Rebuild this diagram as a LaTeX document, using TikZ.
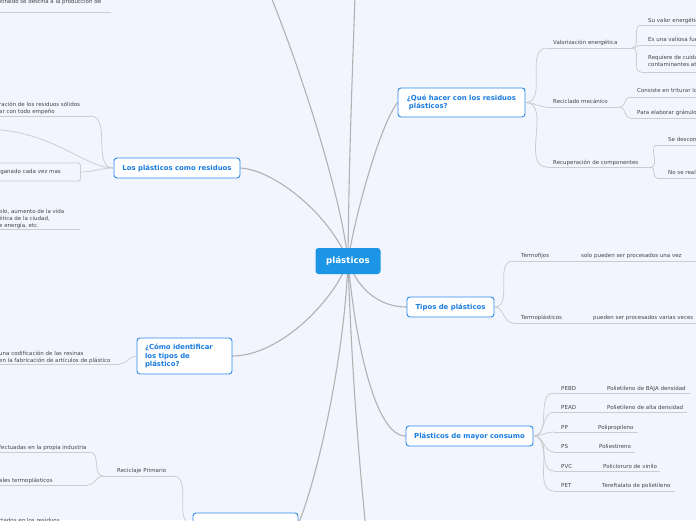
\documentclass[tikz,border=0pt]{standalone}
\usepackage{fontspec}
\setmainfont{DejaVu Sans}
\pgfdeclarelayer{backg}
\pgfdeclarelayer{lines}
\pgfsetlayers{backg,lines,main}
\definecolor{bgc}{HTML}{F2F5FE}
\definecolor{boxblue}{HTML}{2B8AE8}
\definecolor{titleblue}{HTML}{1A7BE0}
\definecolor{centerblue}{HTML}{1C95E6}
\definecolor{subtext}{HTML}{454545}
\definecolor{branchc}{HTML}{B2B2B2}
\definecolor{twigc}{HTML}{CCCCCC}
\tikzset{
  mainbox/.style={draw=boxblue, fill=white, rounded corners=3pt, line width=0.9pt, text=titleblue,
    font=\bfseries\fontsize{6.9}{8.5}\selectfont, inner sep=0pt, align=left},
  centerbox/.style={fill=centerblue, rounded corners=3pt, text=white,
    font=\bfseries\fontsize{8.7}{10}\selectfont, minimum width=65pt, minimum height=26pt, inner sep=0pt},
  sub/.style={font=\fontsize{5.5}{7}\selectfont, text=subtext, inner sep=0pt, anchor=base west, align=left},
  subm/.style={sub, anchor=north west},
  branch/.style={draw=branchc, line width=1.1pt},
  twig/.style={draw=twigc, line width=0.75pt},
  ul/.style={draw=twigc, line width=0.75pt},
}
% name, text x, baseline y, ul start x, ul y, ul end x, text
\newcommand{\stp}[7]{%
  \node[sub] (#1) at (#2,#3) {#7};
  \coordinate (#1-a) at (#4,#5);
  \coordinate (#1-b) at (#6,#5);
  \draw[ul] (#1-a) -- (#1-b);}
% multi-line: name, text x, top y, ul start x, ul y, ul end x, text
\newcommand{\stpm}[7]{%
  \node[subm] (#1) at (#2,#3) {#7};
  \coordinate (#1-a) at (#4,#5);
  \coordinate (#1-b) at (#6,#5);
  \draw[ul] (#1-a) -- (#1-b);}
\begin{document}
\begin{tikzpicture}[x=1pt,y=-1pt]
\useasboundingbox (0,0) rectangle (696,520);
\begin{pgfonlayer}{backg}
\fill[bgc] (0,0) rectangle (696,520);
\end{pgfonlayer}

% central and main nodes
\node[centerbox] (cn) at (348,261) {plásticos};
\node[mainbox, minimum width=127pt, minimum height=29pt] (qh) at (461.5,102.5) {¿Qué hacer con los residuos\\\hspace*{2pt}plásticos?};
\node[mainbox, minimum width=126pt, minimum height=20pt] (lr) at (177,168) {Los plásticos como residuos};
\node[mainbox, text width=79pt, inner xsep=8pt, minimum height=36pt] (ci) at (184.5,356) {¿Cómo identificar\\los tipos de\\plástico?};
\node[mainbox, minimum width=87pt, minimum height=20pt] (tp) at (450.5,307) {Tipos de plásticos};
\node[mainbox, minimum width=127pt, minimum height=20pt] (pm) at (469.5,436) {Plásticos de mayor consumo};
\node[mainbox, minimum width=105pt, minimum height=22pt] (rb) at (245.5,524) {};
\coordinate (offTL) at (264,-20);
\coordinate (offT) at (355,-5);
\coordinate (offB) at (366,530);

% ¿Qué hacer...? branch
\stp{ve}{553}{44}{547}{48}{632}{Valorización energética}
\stp{vea}{648}{22}{641}{25}{705}{Su valor energético}
\stp{veb}{648}{41}{641}{45}{705}{Es una valiosa fuente}
\stpm{vec}{648}{55.6}{641}{72}{705}{Requiere de cuidados\\contaminantes atmosféricos}
\stp{rm}{553}{103}{547}{107}{620}{Reciclado mecánico}
\stp{rma}{637}{92}{630}{97}{705}{Consiste en triturar los}
\stp{rmb}{637}{114}{630}{118}{705}{Para elaborar gránulos}
\stp{rc}{553}{164}{547}{167}{651}{Recuperación de componentes}
\stp{rca}{668}{141}{657}{145}{705}{Se desconectan}
\stp{rcb}{668}{174}{657}{178}{705}{No se realiza}

% Tipos de plásticos
\stp{tf}{521}{257}{513}{261}{556}{Termofijos}
\stp{tfc}{581}{257}{556}{261}{705}{solo pueden ser procesados una vez}
\stp{tq}{521}{319}{513}{323}{575}{Termoplásticos}
\stp{tqc}{593}{319}{575}{323}{705}{pueden ser procesados varias veces}

% Plásticos de mayor consumo
\stp{pebd}{561}{390}{554}{393}{598}{PEBD}
\stp{pebdc}{607}{390}{598}{393}{690}{Polietileno de BAJA densidad}
\stp{pead}{561}{409}{554}{412}{598}{PEAD}
\stp{peadc}{607}{409}{598}{412}{687}{Polietileno de alta densidad}
\stp{pp}{561}{429}{554}{432}{590}{PP}
\stp{ppc}{598}{429}{590}{432}{638}{Polipropileno}
\stp{ps}{561}{448}{554}{452}{590}{PS}
\stp{psc}{599}{448}{590}{452}{635}{Poliestireno}
\stp{pvc}{561}{468}{554}{471}{594}{PVC}
\stp{pvcc}{603}{468}{594}{471}{660}{Policloruro de vinilo}
\stp{pet}{561}{487}{554}{491}{593}{PET}
\stp{petc}{602}{487}{593}{491}{675}{Tereftalato de polietileno}

% left side
\stp{tl}{-1}{3}{-5}{12}{111}{xtraído se destina a la producción de}
\stpm{l1}{-1}{101.7}{-5}{116}{90}{ración de los residuos sólidos\\ar con todo empeño}
\coordinate (offL) at (-10,129);
\node[sub, anchor=west, draw=twigc, line width=0.75pt, rounded corners=2pt, minimum width=86pt, minimum height=18pt,
  text width=74pt, inner xsep=6pt] (l3) at (-6,172) {ganado cada vez mas};
\stpm{l4}{-1}{208.7}{-5}{229}{80}{plo, aumento de la vida\\ética de la ciudad,\\e energía, etc.}
\stpm{c1}{-1}{350.7}{-5}{364}{120}{una codificación de las resinas\\en la fabricación de artículos de plástico}
\stp{rp}{117}{472}{103}{476}{173}{Reciclaje Primario}
\stp{rpa}{-1}{449}{-5}{452}{90}{fectuadas en la propia industria}
\stp{rpb}{-1}{482}{-5}{485}{88}{ales termoplásticos}
\node[sub] (rt) at (-1,522) {rtados en los residuos};

% sub connectors
\draw[twig] (qh.east) to[out=0,in=180] (ve-a);
\draw[twig] (qh.east) to[out=0,in=180] (rm-a);
\draw[twig] (qh.east) to[out=0,in=180] (rc-a);
\draw[twig] (ve-b) to[out=0,in=180] (vea-a);
\draw[twig] (ve-b) to[out=0,in=180] (veb-a);
\draw[twig] (ve-b) to[out=0,in=180] (vec-a);
\draw[twig] (rm-b) to[out=0,in=180] (rma-a);
\draw[twig] (rm-b) to[out=0,in=180] (rmb-a);
\draw[twig] (rc-b) to[out=0,in=180] (rca-a);
\draw[twig] (rc-b) to[out=0,in=180] (rcb-a);
\draw[twig] (tp.east) to[out=0,in=180] (tf-a);
\draw[twig] (tp.east) to[out=0,in=180] (tq-a);
\foreach \n in {pebd,pead,pp,ps,pvc,pet}{\draw[twig] (pm.east) to[out=0,in=180] (\n-a);}
\draw[twig] (lr.west) to[out=180,in=0] (l1-b);
\draw[twig] (lr.west) .. controls (85,168) and (55,132) .. (offL);
\draw[twig] (lr.west) to[out=180,in=0] (l3.east);
\draw[twig] (ci.west) to[out=180,in=0] (c1-b);
\draw[twig] (rp-b) to[out=0,in=180] (rb.west);
\draw[twig] (rp-a) to[out=180,in=0] (rpa-b);
\draw[twig] (rp-a) to[out=180,in=0] (rpb-b);

% main branches
\begin{pgfonlayer}{lines}
\draw[branch] (cn.center) .. controls (342,200) and (302,70) .. (offTL);
\draw[branch] (cn.center) .. controls (349,150) and (353,60) .. (offT);
\draw[branch] (cn.center) .. controls (355,215) and (380,125) .. (qh.west);
\draw[branch] (cn.center) .. controls (330,215) and (275,170) .. (lr.east);
\draw[branch] (cn.center) .. controls (335,300) and (280,356) .. (ci.east);
\draw[branch] (cn.center) .. controls (358,290) and (380,307) .. (tp.west);
\draw[branch] (cn.center) .. controls (355,340) and (375,436) .. (pm.west);
\draw[branch] (cn.center) .. controls (345,350) and (320,470) .. (rb.east);
\draw[branch] (cn.center) .. controls (352,380) and (360,470) .. (offB);
\end{pgfonlayer}
\end{tikzpicture}
\end{document}
